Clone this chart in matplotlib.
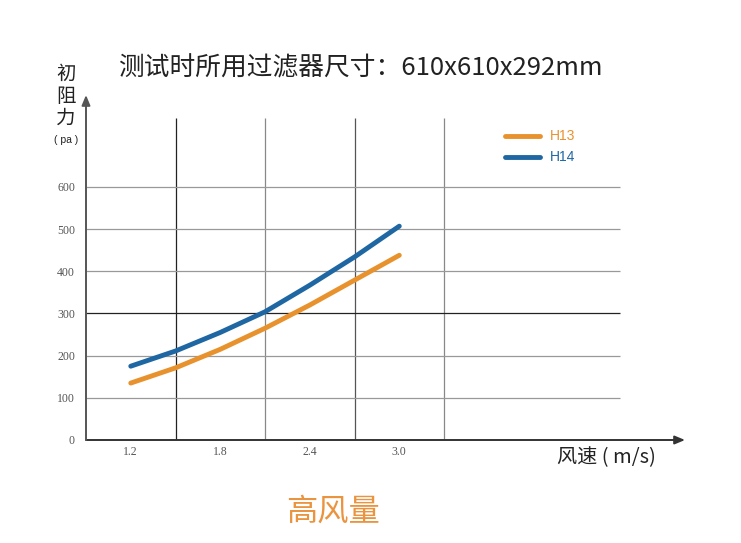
import matplotlib
matplotlib.use("Agg")
import matplotlib.pyplot as plt

plt.rcParams['font.family'] = ['Noto Sans CJK SC', 'DejaVu Sans']

# Data
speed = [1.2, 1.5, 1.8, 2.1, 2.4, 2.7, 3.0]
h13 = [135, 171, 215, 265, 320, 379, 438]
h14 = [175, 211, 255, 304, 367, 434, 507]
series_names = ["H13", "H14"]
x_tick_vals = [1.2, 1.8, 2.4, 3.0]
x_tick_labels = ["1.2", "1.8", "2.4", "3.0"]
y_tick_vals = [0, 100, 200, 300, 400, 500, 600]
y_tick_labels = ["0", "100", "200", "300", "400", "500", "600"]
v_grid = [1.5, 2.1, 2.7, 3.3]
h_grid = [100, 200, 300, 400, 500, 600]

orange = "#E8922E"
blue = "#1F67A3"

W, H = 741, 543
fig = plt.figure(figsize=(W / 100, H / 100), dpi=100)
x0, x1 = 86, 685
y0, y1 = 440, 95
ax = fig.add_axes([x0 / W, (H - y0) / H, (x1 - x0) / W, (y0 - y1) / H])
ax.set_xlim(0.9, 4.915)
ax.set_ylim(0, 818)
for s in ax.spines.values():
    s.set_visible(False)

# grid
for v in v_grid:
    c = "#222222" if v in (1.5,) else ("#555555" if v == 2.7 else "#888888")
    ax.vlines(v, 0, 763, color=c, lw=0.9, zorder=1)
for h in h_grid:
    c = "#222222" if h == 300 else "#999999"
    ax.hlines(h, 0.9, 4.48, color=c, lw=0.9, zorder=1)

# axes arrows
ax.annotate('', xy=(1.0, 0), xytext=(0, 0), xycoords='axes fraction',
            arrowprops=dict(arrowstyle='-|>,head_length=0.6,head_width=0.25', color='#333333', lw=1.4, shrinkA=0, shrinkB=0), zorder=5)
ax.annotate('', xy=(0, 1.0), xytext=(0, 0), xycoords='axes fraction',
            arrowprops=dict(arrowstyle='-|>,head_length=0.6,head_width=0.25', color='#555555', lw=1.4, shrinkA=0, shrinkB=0), zorder=5)

# curves
ax.plot(speed, h13, color=orange, lw=3.5, solid_capstyle='round', solid_joinstyle='round', zorder=3, label=series_names[0])
ax.plot(speed, h14, color=blue, lw=3.5, solid_capstyle='round', solid_joinstyle='round', zorder=3, label=series_names[1])

# ticks
ax.set_xticks(x_tick_vals)
ax.set_xticklabels(x_tick_labels, family=['Liberation Serif'], fontsize=8.5, color='#555555')
ax.set_yticks(y_tick_vals)
ax.set_yticklabels(y_tick_labels, family=['Liberation Serif'], fontsize=8.5, color='#555555')
ax.tick_params(axis='y', length=0, pad=8)
ax.tick_params(axis='x', length=0, pad=4)

# legend (manual)
leg_x0, leg_x1 = 505 / W, 540 / W
for name, col, ypx in [(series_names[0], orange, 136), (series_names[1], blue, 157)]:
    yy = (H - ypx) / H
    fig.add_artist(plt.Line2D([leg_x0, leg_x1], [yy, yy], color=col, lw=3.5, solid_capstyle='round', transform=fig.transFigure))
    fig.text(550 / W, yy, name, color=col, fontsize=10, va='center', ha='left', family=['Liberation Sans', 'DejaVu Sans'])

# title
fig.text(360 / W, (H - 68) / H, "测试时所用过滤器尺寸：610x610x292mm", fontsize=18.5, ha='center', va='center', color='#222222')
# y label stacked
for ch, ypx in [("初", 74), ("阻", 96), ("力", 118)]:
    fig.text(66 / W, (H - ypx) / H, ch, fontsize=14, ha='center', va='center', color='#222222')
fig.text(66 / W, (H - 140) / H, "( pa )", fontsize=7.5, ha='center', va='center', color='#222222', family=['Liberation Sans', 'DejaVu Sans'])
# x label
fig.text(606 / W, (H - 458) / H, "风速 ( m/s)", fontsize=14.5, ha='center', va='center', color='#222222')
# bottom label
fig.text(333 / W, (H - 512) / H, "高风量", fontsize=22.5, ha='center', va='center', color='#EA9440')

fig.savefig("out.png", dpi=100)
